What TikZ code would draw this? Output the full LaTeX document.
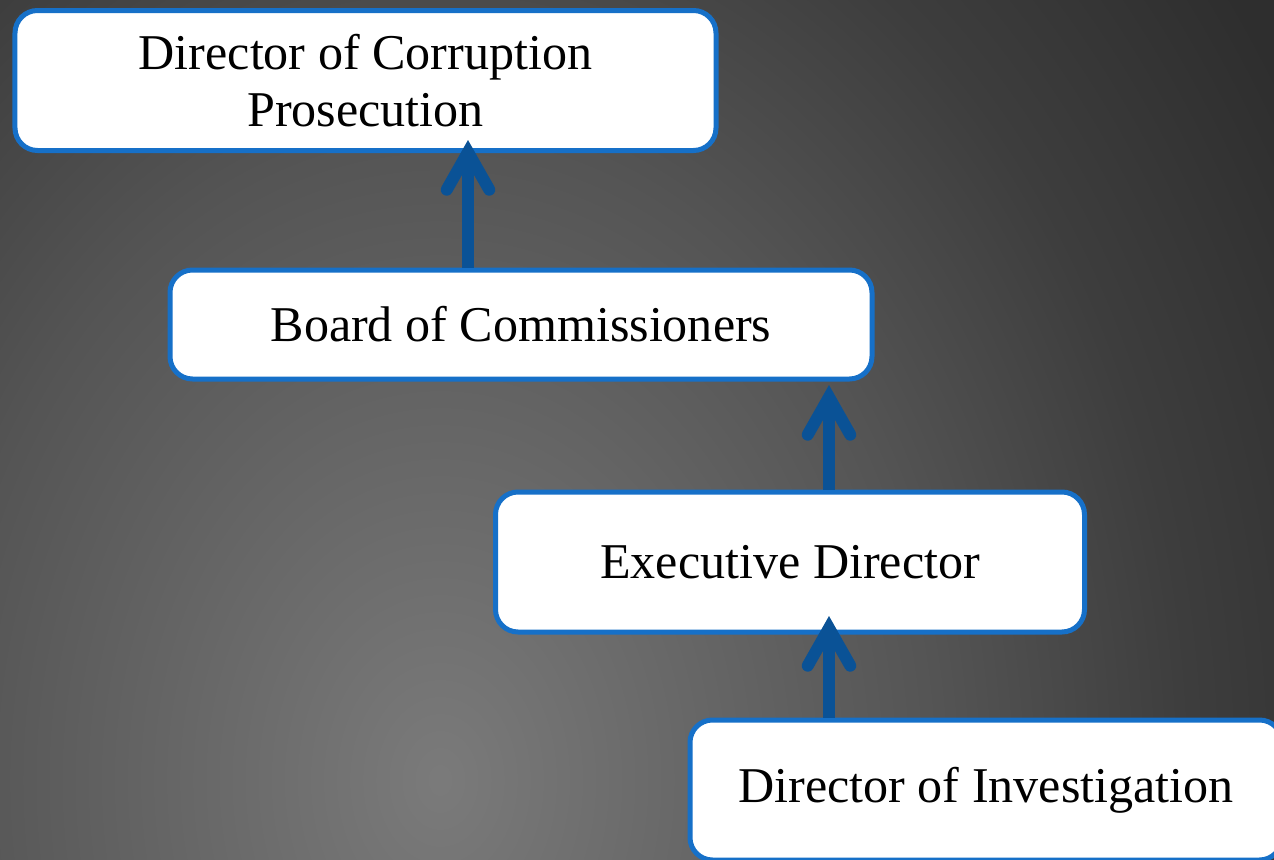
\documentclass[tikz,border=0pt]{standalone}
\definecolor{main}{RGB}{22,112,200}
\definecolor{second}{RGB}{10,82,150}
\usepackage{fontspec}
\setmainfont{Liberation Serif}
\usepackage{tikz}
\usetikzlibrary{
	arrows.meta
}
% grey backdrop, light low in the middle, dark in the corners
\pgfdeclareradialshading{cstbg}{\pgfpointorigin}{%
	color(0bp)=(black!52); color(12.5bp)=(black!67);
	color(18.75bp)=(black!76); color(25bp)=(black!82); color(50bp)=(black!82)}
\tikzset{
  % node
	cstbox/.style ={fill=white,draw=main,text=black,rounded corners=0.45cm,line width=0.1cm,
		align=center,inner sep=0pt,font=\fontsize{28.5}{32}\selectfont},
  % arrow
	cstup/.style  ={-{Straight Barb[line cap=round,line join=miter,line width=0pt 1,length=0.75cm,width=0.85cm]},
		line width=0.24cm, second}
}
\begin{document}
\begin{tikzpicture}
			\useasboundingbox (0,0) rectangle (25.48,-17.2);
			\begin{scope}
				\clip (0,0) rectangle (25.48,-17.2);
				\shade[shading=cstbg] (-11.2,-41.6) rectangle (28.8,10.4);
				\node[cstbox,minimum width=14.02cm,minimum height=2.8cm] (dcp) at (7.31,-1.61) {Director of Corruption\\Prosecution};
				\node[cstbox,minimum width=14.04cm,minimum height=2.18cm] (boc) at (10.42,-6.49) {Board of Commissioners};
				\node[cstbox,minimum width=11.78cm,minimum height=2.8cm] (exd) at (15.8,-11.24) {Executive Director};
				\node[cstbox,minimum width=11.84cm,minimum height=2.8cm] (doi) at (19.72,-15.8) {Director of Investigation};
				\coordinate (t1) at (9.36,-2.8);
				\coordinate (t2) at (16.58,-7.7);
				\coordinate (t3) at (16.58,-12.32);
				\draw[cstup] (t1 |- boc.north) -- (t1);
				\draw[cstup] (t2 |- exd.north) -- (t2);
				\draw[cstup] (t3 |- doi.north) -- (t3);
			\end{scope}
		\end{tikzpicture}
\end{document}
